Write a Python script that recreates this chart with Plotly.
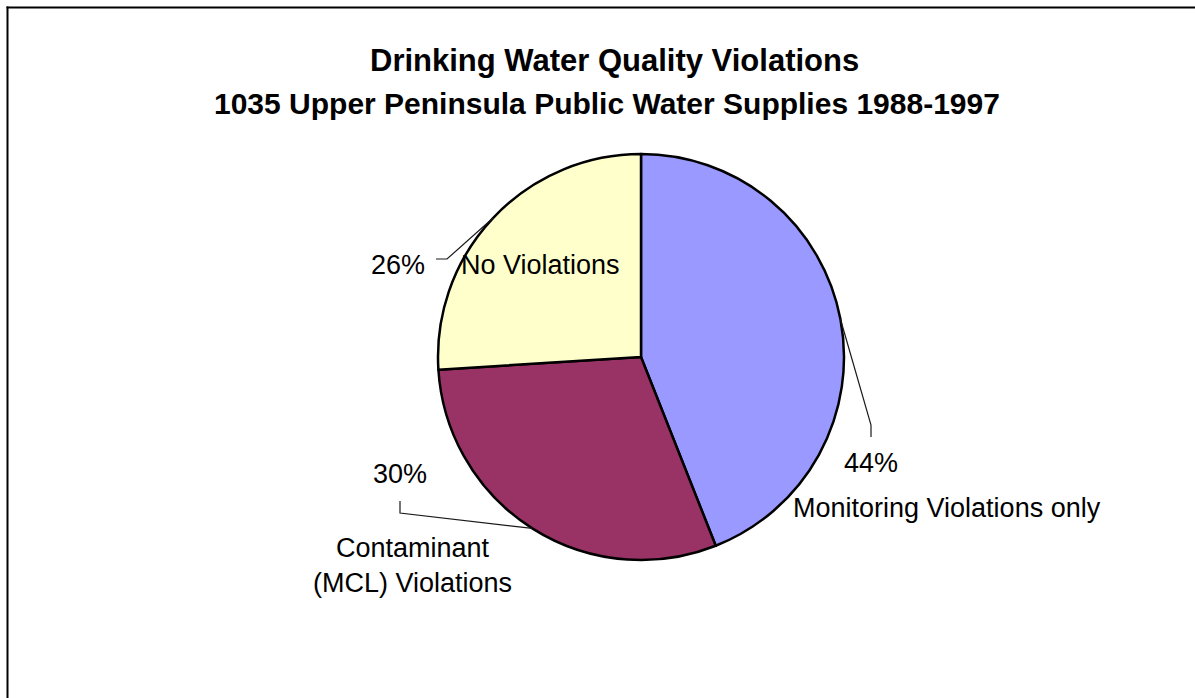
import math
import plotly.graph_objects as go

# ---- data ----
categories = ["Monitoring Violations only", "Contaminant<br>(MCL) Violations", "No Violations"]
percents = [44, 30, 26]
colors = ["#9999FF", "#993366", "#FFFFCC"]
pct_labels = ["44%", "30%", "26%"]

W, H = 1195, 698
FONT = "Arial, Liberation Sans, sans-serif"

# pie geometry (pixels)
cx, cy, R = 641, 357, 203
dom_x = [(cx - R) / W, (cx + R) / W]
dom_y = [(H - cy - R) / H, (H - cy + R) / H]

def px(x):
    return x / W

def py(y):
    return 1 - y / H

fig = go.Figure()
fig.add_trace(go.Pie(
    labels=categories,
    values=percents,
    sort=False,
    direction="clockwise",
    rotation=0,
    marker=dict(colors=colors, line=dict(color="black", width=2.5)),
    textinfo="none",
    hoverinfo="label+percent",
    showlegend=False,
    domain=dict(x=dom_x, y=dom_y),
))

# slice mid-angle edge points computed from data
total = sum(percents)
edges = []
acc = 0
for v in percents:
    mid = (acc + v / 2) / total * 2 * math.pi
    edges.append((cx + R * math.sin(mid), cy - R * math.cos(mid)))
    acc += v

annotations = [
    dict(text="<b>Drinking Water Quality Violations</b>", x=px(614), y=py(60), font=dict(size=31)),
    dict(text="<b>1035 Upper Peninsula Public Water Supplies 1988-1997</b>", x=px(607), y=py(103), font=dict(size=30)),
    # Monitoring
    dict(text=pct_labels[0], x=px(871), y=py(463), font=dict(size=27)),
    dict(text=categories[0], x=px(947), y=py(508), font=dict(size=27)),
    # Contaminant
    dict(text=pct_labels[1], x=px(400), y=py(474), font=dict(size=27)),
    dict(text=categories[1], x=px(412), y=py(565), font=dict(size=27)),
    # No violations
    dict(text=pct_labels[2], x=px(398), y=py(265), font=dict(size=27)),
    dict(text=categories[2], x=px(540), y=py(265), font=dict(size=27)),
]
for a in annotations:
    a.update(xref="paper", yref="paper", showarrow=False, xanchor="center", yanchor="middle")
    a["font"].update(family=FONT, color="black")

def path(points):
    return "M " + " L ".join(f"{px(x)},{py(y)}" for x, y in points)

shapes = [
    # leader lines
    dict(type="path", path=path([edges[0], (871, 425), (871, 437)])),
    dict(type="path", path=path([(400, 501), (400, 513), edges[1]])),
    dict(type="path", path=path([(436, 259), (447, 259), edges[2]])),
]
for s in shapes:
    s.update(xref="paper", yref="paper", line=dict(color="#1a1a1a", width=1.2))

# chart border (left and top visible)
shapes += [
    dict(type="line", xref="paper", yref="paper", x0=px(7.5), x1=px(7.5), y0=py(6.5), y1=py(H + 5),
         line=dict(color="black", width=2)),
    dict(type="line", xref="paper", yref="paper", x0=px(6.5), x1=px(W + 5), y0=py(7.5), y1=py(7.5),
         line=dict(color="black", width=2)),
]

fig.update_layout(
    width=W, height=H,
    margin=dict(l=0, r=0, t=0, b=0),
    paper_bgcolor="white", plot_bgcolor="white",
    annotations=annotations,
    shapes=shapes,
    font=dict(family=FONT),
)

fig.write_html(
    "out.html",
    config={"displayModeBar": False},
    post_script="document.body.style.margin='0';document.body.style.padding='0';document.body.style.overflow='hidden';",
)
